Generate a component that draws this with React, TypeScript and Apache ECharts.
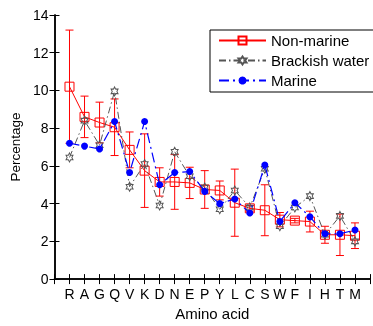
import React, { useEffect, useRef } from "react";
import * as echarts from "echarts";

const categories = ["R", "A", "G", "Q", "V", "K", "D", "N", "E", "P", "Y", "L", "C", "S", "W", "F", "I", "H", "T", "M"];
const nonMarine = [10.2, 8.6, 8.3, 8.05, 6.85, 5.75, 5.15, 5.15, 5.1, 4.75, 4.7, 4.05, 3.75, 3.65, 3.15, 3.1, 3.05, 2.35, 2.35, 2.3];
const nonMarineErr = [3.0, 1.1, 1.08, 1.5, 0.95, 1.95, 0.75, 1.45, 0.83, 1.0, 0.5, 1.78, 0.15, 1.35, 0.38, 0.12, 0.55, 0.45, 1.1, 0.68];
const brackish = [6.45, 8.4, 7.1, 9.95, 4.9, 6.1, 3.9, 6.75, 5.45, 4.85, 3.7, 4.7, 3.8, 5.85, 2.8, 3.8, 4.4, 2.35, 3.35, 2.0];
const marine = [7.2, 7.05, 6.9, 8.35, 5.65, 8.35, 5.0, 5.65, 5.7, 4.65, 4.0, 4.25, 3.5, 6.05, 3.05, 4.05, 3.3, 2.4, 2.4, 2.6];
const yTicks = { min: 0, max: 14, interval: 2 };

const FONT = "Liberation Sans, Arial, sans-serif";
const HEXAGRAM =
  "path://M10 0L12.887 5L18.66 5L15.774 10L18.66 15L12.887 15L10 20L7.113 15L1.34 15L4.226 10L1.34 5L7.113 5Z";

export default function App() {
  const ref = useRef<HTMLDivElement>(null);
  useEffect(() => {
    if (!ref.current) return;
    const chart = echarts.init(ref.current, undefined, { renderer: "svg" });
    const pts = (arr: number[]) => arr.map((v, i) => [i + 1, v]);
    const errData = nonMarine.map((v, i) => [i + 1, v - nonMarineErr[i], v + nonMarineErr[i]]);
    const axisLine = { show: true, lineStyle: { color: "#000", width: 1.5 } };
    const tick = { show: true, inside: true, length: 5, lineStyle: { color: "#000", width: 1 } };
    chart.setOption({
      animation: false,
      grid: { left: 52, top: 15, width: 324, height: 270, containLabel: false },
      legend: {
        data: ["Non-marine", "Brackish water", "Marine"],
        orient: "vertical",
        left: 210,
        top: 30,
        itemWidth: 47,
        itemHeight: 10,
        itemGap: 5,
        padding: [3, 6, 4, 8],
        backgroundColor: "#fff",
        borderColor: "#000",
        borderWidth: 1,
        borderRadius: 0,
        textStyle: { fontSize: 15, fontFamily: FONT, color: "#000", lineHeight: 15 },
      },
      xAxis: [
        {
          type: "value",
          min: 0,
          max: 21,
          interval: 1,
          position: "bottom",
          name: "Amino acid",
          nameLocation: "middle",
          nameGap: 24,
          nameTextStyle: { fontSize: 15, fontFamily: FONT, color: "#000" },
          axisLine,
          axisTick: tick,
          splitLine: { show: false },
          axisLabel: {
            fontSize: 14,
            fontFamily: FONT,
            color: "#000",
            margin: 8,
            formatter: (v: number) => (v >= 1 && v <= categories.length ? categories[v - 1] : ""),
          },
        },
        {
          type: "value",
          min: 0,
          max: 21,
          interval: 1,
          position: "top",
          axisLine,
          axisTick: tick,
          axisLabel: { show: false },
          splitLine: { show: false },
        },
      ],
      yAxis: [
        {
          type: "value",
          min: yTicks.min,
          max: yTicks.max,
          interval: yTicks.interval,
          position: "left",
          name: "Percentage",
          nameLocation: "middle",
          nameGap: 32,
          nameTextStyle: { fontSize: 13.5, fontFamily: FONT, color: "#000" },
          axisLine,
          axisTick: tick,
          splitLine: { show: false },
          axisLabel: { fontSize: 14, fontFamily: FONT, color: "#000", margin: 6 },
        },
        {
          type: "value",
          min: yTicks.min,
          max: yTicks.max,
          interval: yTicks.interval,
          position: "right",
          axisLine,
          axisTick: tick,
          axisLabel: { show: false },
          splitLine: { show: false },
        },
      ],
      series: [
        {
          type: "custom",
          name: "errors",
          xAxisIndex: 0,
          yAxisIndex: 0,
          data: errData,
          encode: { x: 0, y: [1, 2] },
          z: 2,
          renderItem: (params: any, api: any) => {
            const x = api.value(0);
            const lo = api.coord([x, api.value(1)]);
            const hi = api.coord([x, api.value(2)]);
            const hw = 4;
            const style = { stroke: "#ff0000", lineWidth: 1 };
            return {
              type: "group",
              children: [
                { type: "line", shape: { x1: lo[0], y1: lo[1], x2: hi[0], y2: hi[1] }, style },
                { type: "line", shape: { x1: lo[0] - hw, y1: lo[1], x2: lo[0] + hw, y2: lo[1] }, style },
                { type: "line", shape: { x1: hi[0] - hw, y1: hi[1], x2: hi[0] + hw, y2: hi[1] }, style },
              ],
            };
          },
        },
        {
          type: "line",
          name: "Non-marine",
          data: pts(nonMarine),
          symbol: "rect",
          symbolSize: 9,
          showAllSymbol: true,
          z: 3,
          lineStyle: { color: "#ff0000", width: 1, type: "solid" },
          itemStyle: { color: "rgba(255,255,255,0)", borderColor: "#ff0000", borderWidth: 1 },
        },
        {
          type: "line",
          name: "Brackish water",
          data: pts(brackish),
          symbol: HEXAGRAM,
          symbolSize: [8, 9],
          symbolKeepAspect: true,
          showAllSymbol: true,
          z: 4,
          lineStyle: { color: "#555", width: 1, type: [7, 3, 1.5, 3] },
          itemStyle: { color: "rgba(255,255,255,0)", borderColor: "#555", borderWidth: 1 },
        },
        {
          type: "line",
          name: "Marine",
          data: pts(marine),
          symbol: "circle",
          symbolSize: 7,
          showAllSymbol: true,
          z: 5,
          lineStyle: { color: "#0000ff", width: 1.2, type: [10, 4, 2, 4] },
          itemStyle: { color: "#0000ff", borderColor: "#0000ff", borderWidth: 0 },
        },
      ],
    });
    return () => chart.dispose();
  }, []);
  return <div ref={ref} style={{ position: "fixed", left: 0, top: 0, width: 373, height: 326 }} />;
}
